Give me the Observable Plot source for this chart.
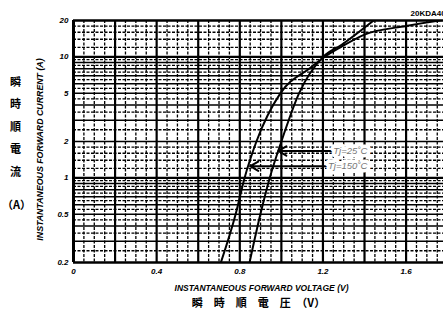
<!DOCTYPE html>
<html><head><meta charset="utf-8">
<script src="https://cdn.jsdelivr.net/npm/d3@7"></script>
<script src="https://cdn.jsdelivr.net/npm/@observablehq/plot@0.6"></script>
<style>
html,body{margin:0;padding:0;background:#fff;overflow:hidden;}
svg{display:block;}
</style></head>
<body><div id="chart"></div>
<script>
// Data
const vf25 = [0.847, 0.899, 0.944, 1.000, 1.085, 1.201, 1.290, 1.444];
const if25 = [0.2, 0.5, 1, 2, 5, 10, 12.6, 20];
const vf150 = [0.709, 0.780, 0.823, 0.880, 0.995, 1.140, 1.204, 1.284, 1.400, 1.600, 1.780];
const if150 = [0.2, 0.5, 1, 2, 5, 8.15, 9.9, 12.0, 15.3, 18.0, 20.2];
const xTicks = [0, 0.4, 0.8, 1.2, 1.6];
const yTicks = [0.2, 0.5, 1, 2, 5, 10, 20];
const xMajor = [0, 0.2, 0.4, 0.6, 0.8, 1.0, 1.2, 1.4, 1.6];
const xMinor = [0.05,0.1,0.15,0.25,0.3,0.35,0.45,0.5,0.55,0.65,0.7,0.75,0.85,0.9,0.95,1.05,1.1,1.15,1.25,1.3,1.35,1.45,1.5,1.55,1.65,1.7,1.75];
const yMajor = [0.3,0.4,0.5,0.6,0.7,0.8,0.9,1,2,3,4,5,6,7,8,9,10];
const yHeavy = [1, 10];
const yMinor = [0.25,0.35,0.45,0.55,0.65,0.75,0.85,0.95,1.2,1.4,1.6,1.8,2.5,3.5,4.5,5.5,6.5,7.5,8.5,9.5,12,14,16,18];
const labels = ["Tj=25˚C", "Tj=150˚C"];
const labelV = [1.24, 1.215];
const labelI = [1.67, 1.25];
const arrowTipV = [0.985, 0.85];

const s25 = vf25.map((v, i) => ({v, i: if25[i]}));
const s150 = vf150.map((v, i) => ({v, i: if150[i]}));
const ann = labels.map((t, k) => ({t, v: labelV[k], i: labelI[k], tip: arrowTipV[k]}));

const ital = "italic";
const cjk = "'Noto Sans CJK JP', sans-serif";
const chart = Plot.plot({
  width: 443, height: 315,
  marginLeft: 73, marginRight: 0, marginTop: 20, marginBottom: 53,
  style: {fontFamily: "'Liberation Sans', Arial, sans-serif", background: "#fff"},
  x: {domain: [0, 1.78], ticks: xTicks, tickSize: 0, tickPadding: 6, tickFormat: d => String(d), label: null},
  y: {type: "log", domain: [0.2, 20], ticks: yTicks, tickSize: 0, tickPadding: 5, tickFormat: d => String(d), label: null},
  marks: [
    Plot.ruleX(xMinor, {stroke: "#000", strokeWidth: 1.3, strokeDasharray: "3,1.5"}),
    Plot.ruleY(yMinor, {stroke: "#000", strokeWidth: 1.3, strokeDasharray: "3,1.5"}),
    Plot.ruleY(yMajor, {stroke: "#000", strokeWidth: 1.5}),
    Plot.ruleY(yHeavy, {stroke: "#000", strokeWidth: 2.4}),
    Plot.ruleX(xMajor, {stroke: "#000", strokeWidth: 2.2}),
    Plot.ruleY([0.2, 20], {stroke: "#000", strokeWidth: 2.5}),
    Plot.ruleX([0], {stroke: "#000", strokeWidth: 3}),
    Plot.line(s25, {x: "v", y: "i", stroke: "#000", strokeWidth: 2, curve: "monotone-x", clip: true}),
    Plot.line(s150, {x: "v", y: "i", stroke: "#000", strokeWidth: 2, curve: "monotone-x", clip: true}),
    Plot.arrow(ann, {x1: "v", y1: "i", x2: "tip", y2: "i", stroke: "#000", strokeWidth: 2, headLength: 7, inset: 0}),
    Plot.text(ann, {x: "v", y: "i", text: "t", textAnchor: "start", dx: 2, fontSize: 9.5, fontStyle: ital, fill: "#777", stroke: "#fff", strokeWidth: 7, paintOrder: "stroke"}),
    Plot.axisX({ticks: xTicks, tickSize: 0, tickPadding: 6, tickFormat: d => String(d), fontSize: 8, fontStyle: ital, fontWeight: "bold", label: null}),
    Plot.axisY({ticks: yTicks, tickSize: 0, tickPadding: 5, tickFormat: d => String(d), fontSize: 8, fontStyle: ital, fontWeight: "bold", label: null}),
    Plot.text(["INSTANTANEOUS FORWARD VOLTAGE (V)"], {frameAnchor: "bottom", textAnchor: "middle", dx: 3, dy: 26, lineAnchor: "middle", fontSize: 8.5, fontStyle: ital, fontWeight: "bold"}),
    Plot.text(["瞬　時　順　電　圧　（V）"], {frameAnchor: "bottom", textAnchor: "middle", dx: 0, dy: 41, lineAnchor: "middle", fontSize: 11, fontWeight: "bold", fontFamily: cjk}),
    Plot.text(["INSTANTANEOUS FORWARD CURRENT (A)"], {frameAnchor: "left", textAnchor: "middle", dx: -33, dy: 8, rotate: -90, lineAnchor: "middle", fontSize: 8.8, fontStyle: ital, fontWeight: "bold"}),
    Plot.text(["瞬\n時\n順\n電\n流"], {frameAnchor: "top-left", textAnchor: "middle", dx: -58, dy: 49, lineAnchor: "top", lineHeight: 2.05, fontSize: 11, fontWeight: "bold", fontFamily: cjk}),
    Plot.text(["（A）"], {frameAnchor: "top-left", textAnchor: "middle", dx: -57, dy: 185, lineAnchor: "middle", fontSize: 11, fontWeight: "bold", fontFamily: cjk}),
    Plot.text(["20KDA40"], {frameAnchor: "top-right", dx: -33, dy: -7, textAnchor: "start", lineAnchor: "middle", fontSize: 8, fontWeight: "bold"})
  ]
});
document.getElementById("chart").appendChild(chart);
</script></body></html>
